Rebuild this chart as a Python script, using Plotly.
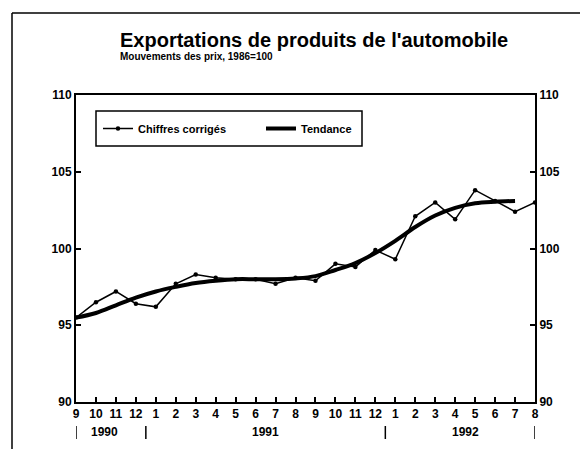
import plotly.graph_objects as go

months = ["9", "10", "11", "12", "1", "2", "3", "4", "5", "6", "7", "8",
          "9", "10", "11", "12", "1", "2", "3", "4", "5", "6", "7", "8"]
years = ["1990", "1991", "1992"]
year_pos = [1.45, 9.5, 19.5]
year_seps = [0, 3.5, 15.5, 23]

chiffres = [95.5, 96.5, 97.2, 96.4, 96.2, 97.7, 98.3, 98.1, 98.0, 98.0, 97.7, 98.1,
            97.9, 99.0, 98.8, 99.9, 99.3, 102.1, 103.0, 101.9, 103.8, 103.1, 102.4, 103.0]
tendance = [95.5, 95.8, 96.3, 96.8, 97.2, 97.5, 97.75, 97.9, 98.0, 98.0, 98.0, 98.05,
            98.2, 98.6, 99.05, 99.7, 100.5, 101.4, 102.15, 102.65, 102.95, 103.05, 103.1]

x_all = list(range(len(months)))
FONT = "Liberation Sans"

# page body has an 8px margin: work in screen pixels and shift
OFF = 8
W, H = 588 - OFF, 450 - OFF
L, Rr, T, Bb = 76, 535, 95, 402          # plot box in screen px
pw, ph = Rr - L, Bb - T
def px(x): return (x - L) / pw
def py(y): return (Bb - y) / ph

fig = go.Figure()
fig.add_trace(go.Scatter(x=x_all, y=chiffres, mode="lines+markers", name="Chiffres corrigés",
                         line=dict(color="black", width=1.5),
                         marker=dict(color="black", size=4.5)))
fig.add_trace(go.Scatter(x=x_all[:len(tendance)], y=tendance, mode="lines", name="Tendance",
                         line=dict(color="black", width=4, shape="spline")))
fig.add_trace(go.Scatter(x=[0], y=[None], yaxis="y2", showlegend=False, hoverinfo="skip"))

axis_common = dict(range=[90, 110], tickvals=[90, 95, 100, 105, 110], ticks="inside",
                   ticklen=5, tickwidth=1.5, tickcolor="black", showgrid=False,
                   zeroline=False, showline=True, linecolor="black", linewidth=2,
                   tickfont=dict(family=FONT, size=12, color="black", weight="bold"))

fig.update_layout(
    width=W, height=H,
    margin=dict(l=L - OFF, r=W - (Rr - OFF), t=T - OFF, b=H - (Bb - OFF)),
    paper_bgcolor="white", plot_bgcolor="white",
    xaxis=dict(range=[0, 23], tickvals=x_all, ticktext=months, ticks="inside",
               ticklen=5, tickwidth=1.5, tickcolor="black", showgrid=False, zeroline=False,
               showline=True, linecolor="black", linewidth=2, mirror=True,
               tickfont=dict(family=FONT, size=12, color="black", weight="bold")),
    yaxis=dict(side="left", **axis_common),
    yaxis2=dict(side="right", overlaying="y", **axis_common),
    showlegend=True,
    legend=dict(orientation="h", x=px(98), y=py(128.5), xanchor="left", yanchor="middle",
                bgcolor="rgba(0,0,0,0)", borderwidth=0,
                font=dict(family=FONT, size=11, color="black", weight="bold"),
                entrywidth=118, tracegroupgap=0),
)

fig.add_shape(type="rect", xref="paper", yref="paper", x0=px(96), x1=px(362), y0=py(146), y1=py(111),
              line=dict(color="black", width=1.5), fillcolor="white", layer="below")

fig.add_annotation(text="<b>Exportations de produits de l'automobile</b>", xref="paper", yref="paper",
                   x=px(118), y=py(40), xanchor="left", yanchor="middle", showarrow=False,
                   font=dict(family=FONT, size=20, color="black"))
fig.add_annotation(text="<b>Mouvements des prix, 1986=100</b>", xref="paper", yref="paper",
                   x=px(118), y=py(57), xanchor="left", yanchor="middle", showarrow=False,
                   font=dict(family=FONT, size=10, color="black"))

for yr, pos in zip(years, year_pos):
    fig.add_annotation(text=yr, x=pos, xref="x", yref="paper", y=py(432), yanchor="middle",
                       showarrow=False, font=dict(family=FONT, size=12, color="black", weight="bold"))
for s in year_seps:
    fig.add_shape(type="line", x0=s, x1=s, xref="x", yref="paper", y0=py(426), y1=py(439),
                  line=dict(color="black", width=1.5))

# outer frame: top and left edges only
fig.add_shape(type="line", xref="paper", yref="paper", x0=px(12), x1=px(586), y0=py(13), y1=py(13),
              line=dict(color="black", width=1.5))
fig.add_shape(type="line", xref="paper", yref="paper", x0=px(12), x1=px(12), y0=py(13), y1=py(449),
              line=dict(color="black", width=1.5))

fig.write_html("out.html")
